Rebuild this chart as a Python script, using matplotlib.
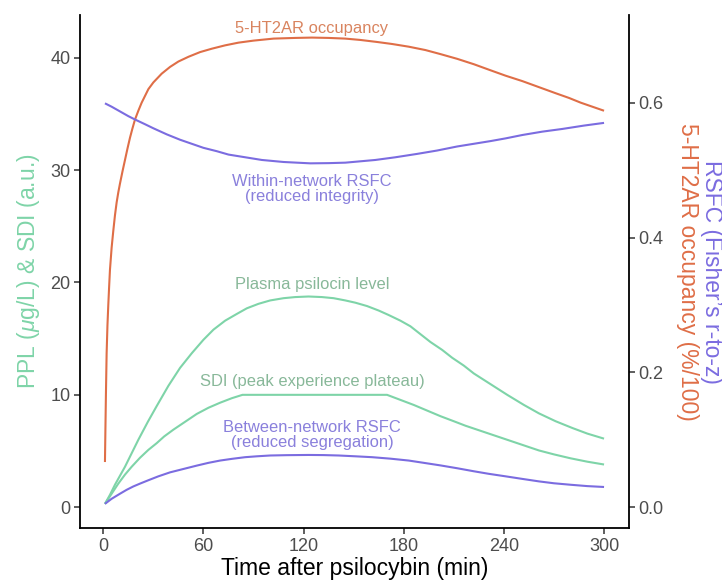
import matplotlib
matplotlib.use("Agg")
import matplotlib.pyplot as plt

plt.rcParams['font.family'] = ['Liberation Sans', 'DejaVu Sans']
plt.rcParams['mathtext.fontset'] = 'custom'
plt.rcParams['mathtext.it'] = 'Liberation Sans:italic'
plt.rcParams['mathtext.rm'] = 'Liberation Sans'

# ---- data (left axis units: PPL ug/L and SDI a.u.) ----
plasma_t = [1, 4, 7, 10, 13, 17, 21, 26.7, 32, 39, 46, 53, 60, 66, 73, 80, 86, 93, 100, 108, 115, 123, 131, 138,
            145, 151, 158, 165, 171, 178, 184, 190, 196, 203, 209, 216, 222, 232, 242, 252, 261, 271, 281, 290, 300]
plasma_v = [0.3, 1.1, 2.0, 2.8, 3.6, 4.8, 6.0, 7.6, 9.0, 10.8, 12.4, 13.7, 14.9, 15.8, 16.6, 17.2, 17.7, 18.1, 18.4,
            18.6, 18.7, 18.75, 18.7, 18.6, 18.4, 18.2, 17.9, 17.5, 17.1, 16.6, 16.1, 15.4, 14.7, 14.0, 13.3, 12.6,
            11.9, 10.95, 10.0, 9.1, 8.35, 7.65, 7.05, 6.55, 6.1]

sdi_t = [1, 5, 9, 13, 17, 22, 27, 32, 36.5, 42, 49, 56, 63, 70, 77, 83.4, 170, 178, 186, 194, 202, 210, 217, 225,
         232, 240, 247, 254, 261, 270, 280, 290, 300]
sdi_v = [0.3, 1.2, 2.1, 2.9, 3.6, 4.4, 5.1, 5.7, 6.3, 6.9, 7.6, 8.3, 8.85, 9.3, 9.7, 10.0, 10.0, 9.55, 9.1, 8.6,
         8.1, 7.65, 7.25, 6.85, 6.5, 6.1, 5.75, 5.4, 5.05, 4.7, 4.35, 4.05, 3.8]

# ---- data (right axis units: occupancy %/100 and RSFC Fisher z) ----
occ_t = [1, 1.3, 1.6, 2, 2.5, 3, 3.5, 4, 5, 6, 7, 8, 9, 10, 11.5, 13, 14.5, 16, 17.5, 19, 21, 23, 25, 27, 30,
         35, 40, 45, 51, 58, 65, 73, 81, 90, 102, 115, 125, 135, 145, 154, 164, 173, 183, 193, 202, 212, 222,
         232, 241, 251, 261, 271, 279, 286, 293, 300]
occ_v = [0.067, 0.12, 0.17, 0.228, 0.27, 0.30, 0.327, 0.352, 0.385, 0.41, 0.433, 0.452, 0.467, 0.48, 0.498,
         0.515, 0.532, 0.548, 0.562, 0.575, 0.588, 0.600, 0.610, 0.620, 0.630, 0.643, 0.653, 0.661, 0.668,
         0.675, 0.680, 0.685, 0.689, 0.692, 0.695, 0.696, 0.6965, 0.696, 0.695, 0.693, 0.690, 0.687, 0.683,
         0.678, 0.672, 0.665, 0.657, 0.648, 0.640, 0.632, 0.623, 0.614, 0.607, 0.600, 0.594, 0.588]

within_t = [1, 5, 10, 15, 19, 25, 30, 38, 46, 53, 60, 68, 75, 85, 95, 108, 124, 135, 145, 154, 163, 175, 188,
            200, 212, 222, 232, 241, 251, 263, 275, 288, 300]
within_v = [0.599, 0.594, 0.587, 0.580, 0.575, 0.568, 0.562, 0.553, 0.545, 0.539, 0.533, 0.528, 0.523, 0.519,
            0.515, 0.512, 0.510, 0.5103, 0.511, 0.513, 0.515, 0.519, 0.524, 0.529, 0.535, 0.539, 0.543, 0.547,
            0.552, 0.557, 0.561, 0.566, 0.570]

between_t = [1, 5, 10, 14, 18, 22, 27, 33, 40, 48, 56, 63, 70, 77, 85, 92, 100, 110, 123, 132, 141, 151, 161,
             172, 183, 192, 202, 212, 222, 231, 241, 251, 261, 270, 280, 290, 300]
between_v = [0.005, 0.0125, 0.020, 0.0258, 0.0308, 0.035, 0.040, 0.0458, 0.0517, 0.0567, 0.0617, 0.0658,
             0.0692, 0.0717, 0.0742, 0.0755, 0.0767, 0.0772, 0.0775, 0.0773, 0.0767, 0.0755, 0.0742, 0.072,
             0.0692, 0.0658, 0.062, 0.0578, 0.0533, 0.0495, 0.0458, 0.042, 0.0383, 0.0355, 0.0333, 0.0313, 0.030]

x_ticks = [0, 60, 120, 180, 240, 300]
left_ticks = [0, 10, 20, 30, 40]
right_ticks = [0.0, 0.2, 0.4, 0.6]
sec_scale = 60.0

ORANGE = '#DF6E47'
PURPLE = '#7B6CE0'
GREEN = '#7ED4A8'
ORANGE_T = '#D9845F'
PURPLE_T = '#8A80DC'
GREEN_T = '#88B899'

fig = plt.figure(figsize=(7.22, 5.82), dpi=100)
ax = fig.add_axes([80/722, 1 - 528/582, (629-80)/722, (528-15)/582])
ax2 = ax.twinx()

ylo, yhi = -1.85, 43.8
ax.set_xlim(-13.95, 314.95)
ax.set_ylim(ylo, yhi)
ax2.set_ylim(ylo / sec_scale, yhi / sec_scale)

lw = 1.5
ax.plot(plasma_t, plasma_v, color=GREEN, lw=lw, solid_capstyle='butt')
ax.plot(sdi_t, sdi_v, color=GREEN, lw=lw, solid_capstyle='butt')
ax2.plot(occ_t, occ_v, color=ORANGE, lw=lw, solid_capstyle='butt')
ax2.plot(within_t, within_v, color=PURPLE, lw=lw, solid_capstyle='butt')
ax2.plot(between_t, between_v, color=PURPLE, lw=lw, solid_capstyle='butt')

ann = 11.9
lx = 125
ax.text(lx, 42.6, '5-HT2AR occupancy', color=ORANGE_T, fontsize=ann, ha='center', va='center')
ax.text(lx, 28.3, 'Within-network RSFC\n(reduced integrity)', color=PURPLE_T, fontsize=ann, ha='center', va='center', linespacing=1.0)
ax.text(lx, 19.8, 'Plasma psilocin level', color=GREEN_T, fontsize=ann, ha='center', va='center')
ax.text(lx, 11.2, 'SDI (peak experience plateau)', color=GREEN_T, fontsize=ann, ha='center', va='center')
ax.text(lx, 6.4, 'Between-network RSFC\n(reduced segregation)', color=PURPLE_T, fontsize=ann, ha='center', va='center', linespacing=1.0)

for a in (ax, ax2):
    a.spines['top'].set_visible(False)
    for s in a.spines.values():
        s.set_linewidth(1.3)
        s.set_color('black')
ax.spines['right'].set_visible(False)
ax2.spines['left'].set_visible(False)
ax2.spines['bottom'].set_visible(False)

ax.set_xticks(x_ticks)
ax.set_xticklabels([str(v) for v in x_ticks])
ax.set_yticks(left_ticks)
ax.set_yticklabels([str(v) for v in left_ticks])
ax2.set_yticks(right_ticks)
ax2.set_yticklabels([f'{v:.1f}' for v in right_ticks])

for a in (ax, ax2):
    a.tick_params(axis='both', length=4, width=1.1, color='#333333', labelcolor='#4D4D4D', labelsize=13, pad=3)

ax.set_xlabel('Time after psilocybin (min)', fontsize=16.5, color='black', labelpad=2)
ax.set_ylabel(r'PPL ($\mu$g/L) & SDI (a.u.)', fontsize=16.5, color=GREEN, labelpad=6)

cy = 1 - ((15 + 528) / 2) / 582
fig.text(688/722, cy, '5-HT2AR occupancy (%/100)', rotation=270, color=ORANGE, fontsize=16.5, ha='center', va='center')
fig.text(711/722, cy, 'RSFC (Fisher\u2019s r-to-z)', rotation=270, color=PURPLE, fontsize=16.5, ha='center', va='center')

fig.savefig('out.png', dpi=100)
